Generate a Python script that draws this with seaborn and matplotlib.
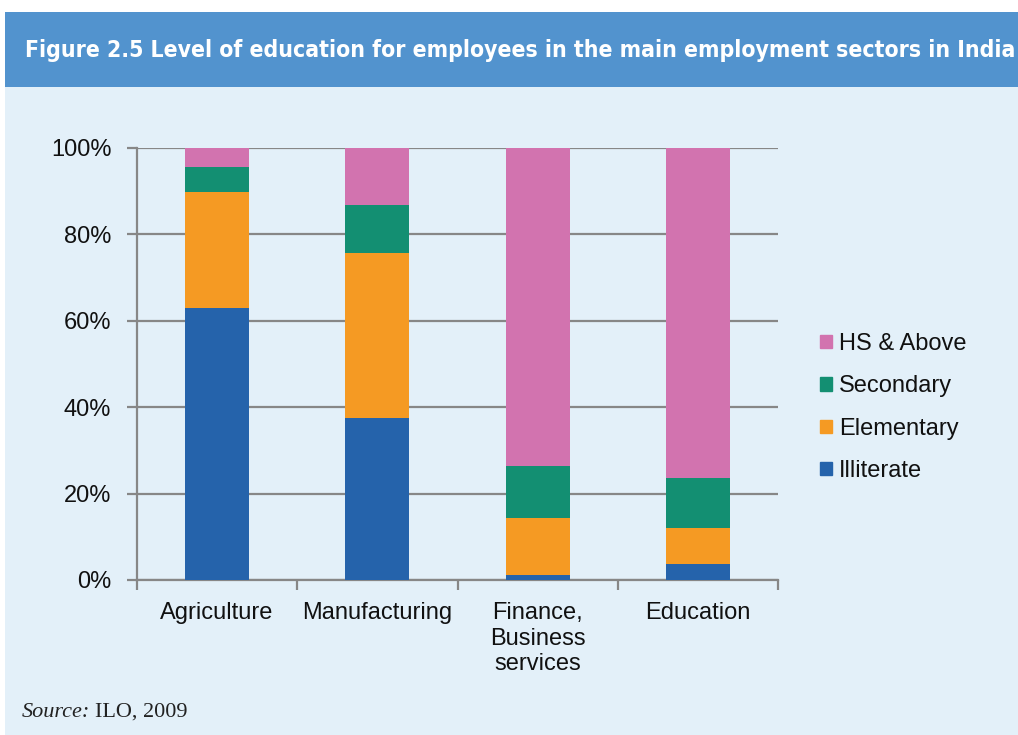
import matplotlib
matplotlib.use("Agg")
import matplotlib.pyplot as plt
import matplotlib.patches as mpatches
from matplotlib.ticker import FixedLocator, PercentFormatter
import seaborn as sns
import pandas as pd
import numpy as np

categories = ["Agriculture", "Manufacturing", "Finance,\nBusiness\nservices", "Education"]
illiterate = [62.9, 37.5, 1.2, 3.7]
elementary = [26.8, 38.3, 13.2, 8.4]
secondary = [5.8, 10.9, 12.0, 11.5]
hs_above = [4.5, 13.3, 73.6, 76.4]

series_names = ["Illiterate", "Elementary", "Secondary", "HS & Above"]
series_values = [illiterate, elementary, secondary, hs_above]
colors = ["#2563AB", "#F59A23", "#138F72", "#D273AF"]

title_text = "Figure 2.5 Level of education for employees in the main employment sectors in India"

sns.set_theme(style="white")
plt.rcParams['font.family'] = ['Liberation Sans', 'DejaVu Sans']

W, H = 1018, 735
fig = plt.figure(figsize=(W / 100, H / 100), dpi=100)
fig.patch.set_facecolor("white")

# background panels
fig.add_artist(mpatches.Rectangle((5 / W, 0), 1 - 5 / W, 1 - 87 / H, transform=fig.transFigure,
                                  facecolor="#E3F0F9", edgecolor="none", zorder=0))
fig.add_artist(mpatches.Rectangle((5 / W, 1 - 87 / H), 1 - 5 / W, 75 / H, transform=fig.transFigure,
                                  facecolor="#5293CE", edgecolor="none", zorder=0))
title = fig.text(25 / W, 1 - 50 / H, title_text, color="white", fontsize=17.5, fontweight="bold",
                 fontstretch="condensed", family=["DejaVu Sans"], va="center", ha="left")
fig.canvas.draw()
tw = title.get_window_extent().width
title.set_fontsize(17.5 * 986 / tw)

ax = fig.add_axes([137 / W, 1 - 580 / H, (778 - 137) / W, (580 - 148) / H])
ax.set_facecolor("none")

# stacked bars via cumulative sums
cum = np.cumsum(np.array(series_values), axis=0)
rows = []
for i, name in enumerate(series_names):
    for j, cat in enumerate(categories):
        rows.append({"category": cat, "series": name, "top": cum[i, j]})
df = pd.DataFrame(rows)

for i in reversed(range(len(series_names))):
    sub = df[df["series"] == series_names[i]]
    sns.barplot(data=sub, x="category", y="top", order=categories, color=colors[i],
                width=0.4, ax=ax, saturation=1, zorder=3, edgecolor="none")

ax.set_ylim(0, 100)
ax.set_xlim(-0.5, len(categories) - 0.5)
ax.yaxis.set_major_locator(FixedLocator([0, 20, 40, 60, 80, 100]))
ax.yaxis.set_major_formatter(PercentFormatter(decimals=0))
ax.set_xlabel("")
ax.set_ylabel("")

gridc = "#878787"
ax.grid(axis="y", color=gridc, linewidth=1.6, zorder=1)
ax.set_axisbelow(True)
for s in ["top", "right"]:
    ax.spines[s].set_visible(False)
for s in ["left", "bottom"]:
    ax.spines[s].set_color(gridc)
    ax.spines[s].set_linewidth(1.6)

fs = 17
ax.tick_params(axis="y", left=True, length=7.5, width=1.6, color=gridc, labelsize=fs,
               labelcolor="#111111", pad=11)
ax.tick_params(axis="x", bottom=False, labelsize=fs, labelcolor="#111111", pad=10)
ax.set_xticks(range(len(categories)))
ax.set_xticklabels(categories, linespacing=1.2, va="top")
ax.set_xticks(np.arange(-0.5, len(categories)), minor=True)
ax.tick_params(axis="x", which="minor", bottom=True, length=7, width=1.6, color=gridc)

handles = [mpatches.Patch(color=colors[i], label=series_names[i]) for i in reversed(range(4))]
leg = fig.legend(handles=handles, loc="upper left", bbox_to_anchor=(820 / W, 1 - 333 / H),
                 frameon=False, fontsize=fs, handlelength=0.5, handleheight=0.5,
                 handletextpad=0.3, labelspacing=0.86, borderpad=0, borderaxespad=0)
for t in leg.get_texts():
    t.set_color("#111111")

# source note
t1 = fig.text(22 / W, 1 - 717 / H, "Source:", fontsize=16, family=["Liberation Serif"],
              style="italic", color="#222222", va="baseline", ha="left")
fig.canvas.draw()
bb = t1.get_window_extent()
fig.text((bb.x1 + 5) / W, 1 - 717 / H, "ILO, 2009", fontsize=16, family=["Liberation Serif"],
         color="#222222", va="baseline", ha="left")

fig.savefig("out.png", dpi=100, facecolor=fig.get_facecolor())
